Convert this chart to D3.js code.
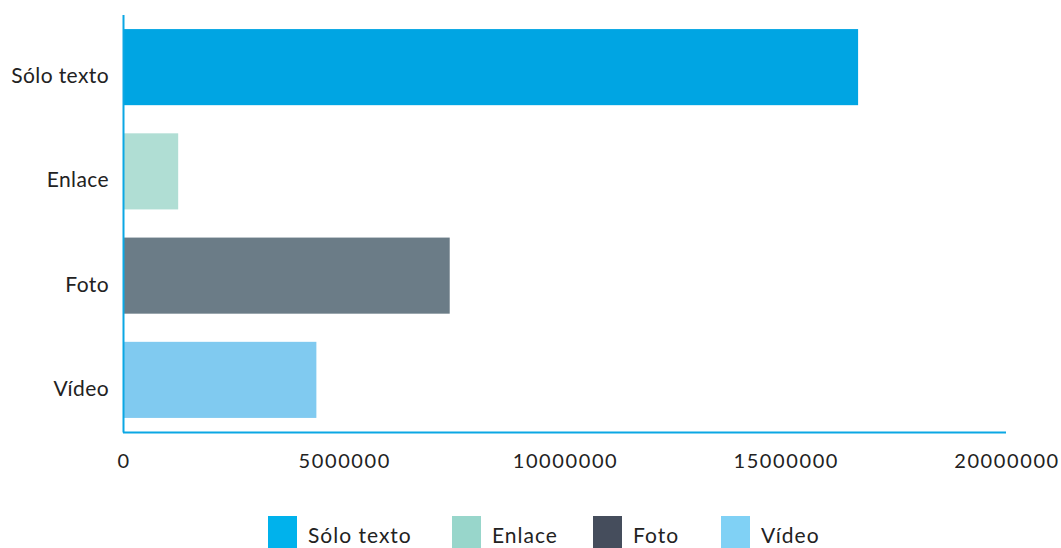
<!DOCTYPE html>
<html><head><meta charset="utf-8">
<script src="https://cdn.jsdelivr.net/npm/d3@7"></script>
<style>body{margin:0;background:#fff}text{font-family:Lato,sans-serif;fill:#222}</style>
</head><body><svg id="c" width="1061" height="548"></svg>
<script>
const categories = ["Sólo texto", "Enlace", "Foto", "Vídeo"];
const values = [16650000, 1250000, 7400000, 4380000];
const barColors = ["#00a5e3", "#b0ded4", "#6b7c87", "#80caf0"];
const legendColors = ["#00b2ec", "#98d6cb", "#454d5c", "#80d1f5"];
const tickValues = [0, 5000000, 10000000, 15000000, 20000000];

const svg = d3.select("#c");
const x = d3.scaleLinear().domain([0, 20000000]).range([123, 1006]);
const y = d3.scaleBand().domain(categories).range([15, 432]).paddingInner(0.27).paddingOuter(0.135);

svg.selectAll("rect.bar").data(categories).join("rect").attr("class","bar")
  .attr("x", x(0)).attr("y", d => y(d))
  .attr("width", (d,i) => x(values[i]) - x(0)).attr("height", y.bandwidth())
  .attr("fill", (d,i) => barColors[i]);

svg.append("line").attr("x1",123.5).attr("x2",123.5).attr("y1",15).attr("y2",432.5).attr("stroke","#0ba7e4").attr("stroke-width",2);
svg.append("line").attr("x1",123).attr("x2",1006).attr("y1",432.5).attr("y2",432.5).attr("stroke","#0ba7e4").attr("stroke-width",2);

svg.selectAll("text.ylab").data(categories).join("text").attr("class","ylab")
  .attr("x", 109).attr("y", d => y(d) + y.bandwidth()/2 + 16)
  .attr("text-anchor","end").style("font-size","21px").style("letter-spacing","0.4px").text(d => d);

svg.selectAll("text.xlab").data(tickValues).join("text").attr("class","xlab")
  .attr("x", d => x(d) + 1).attr("y", 468).attr("text-anchor","middle")
  .style("font-size","20px").style("letter-spacing","1.6px").text(d => d3.format("d")(d));

const lx = [268, 452, 593, 721];
const lg = svg.selectAll("g.leg").data(categories).join("g").attr("class","leg")
  .attr("transform",(d,i)=>`translate(${lx[i]},516)`);
lg.append("rect").attr("width",29).attr("height",34).attr("fill",(d,i)=>legendColors[i]);
lg.append("text").attr("x",40).attr("y",27).style("font-size","21px").style("letter-spacing","1px").text(d=>d);
</script></body></html>
